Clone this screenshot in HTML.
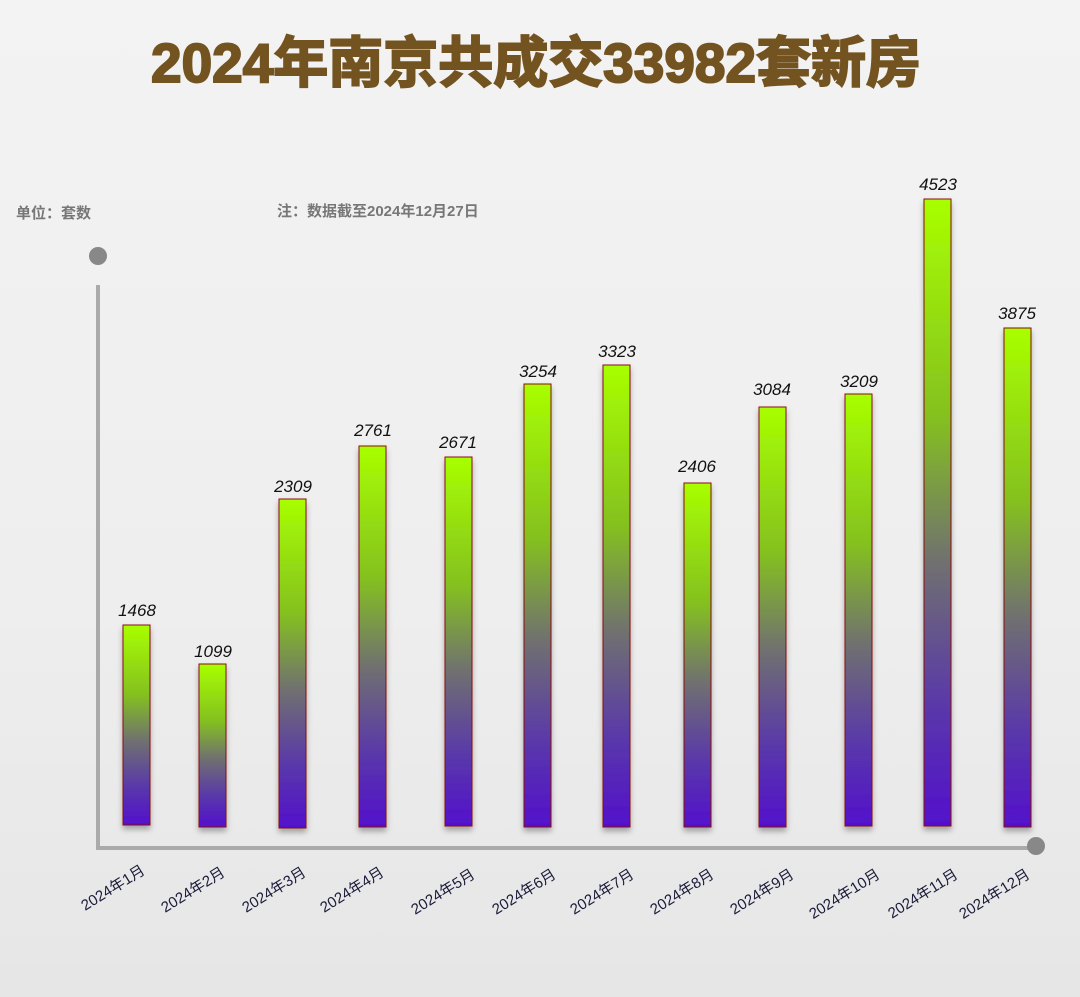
<!DOCTYPE html>
<html><head><meta charset="utf-8"><style>
body{margin:0;width:1080px;height:997px;overflow:hidden;background:linear-gradient(180deg,#f3f3f3 0%,#eeeeee 60%,#e6e6e6 100%);font-family:"Liberation Sans","Noto Sans CJK SC",sans-serif;}
</style></head><body>
<svg width="1080" height="997" xmlns="http://www.w3.org/2000/svg" style="position:absolute;left:0;top:0">
<defs>
<linearGradient id="g" x1="0" y1="0" x2="0" y2="1">
<stop offset="0" stop-color="#a8ff00"/>
<stop offset="0.35" stop-color="#84c020"/>
<stop offset="0.58" stop-color="#707070"/>
<stop offset="0.8" stop-color="#5a3aa8"/>
<stop offset="1" stop-color="#5210cc"/>
</linearGradient>
<filter id="sh"><feDropShadow dx="0" dy="4" stdDeviation="3" flood-color="#000" flood-opacity="0.3"/></filter>
</defs>
<text x="536" y="82" text-anchor="middle" font-size="55" font-weight="bold" fill="#735320" stroke="#735320" stroke-width="2" textLength="770" lengthAdjust="spacingAndGlyphs" font-family="Liberation Sans,Noto Sans CJK SC,sans-serif">2024年南京共成交33982套新房</text>
<text x="16" y="218" font-size="15" font-weight="bold" fill="#777">单位：套数</text>
<text x="277" y="216" font-size="15" font-weight="bold" fill="#777">注：数据截至2024年12月27日</text>
<line x1="98" y1="285" x2="98" y2="849" stroke="#aaa" stroke-width="4"/>
<line x1="96" y1="848" x2="1034" y2="848" stroke="#aaa" stroke-width="4"/>
<circle cx="98" cy="256" r="9" fill="#888"/>
<circle cx="1036" cy="846" r="9" fill="#888"/>
<g stroke="#8a1010" stroke-width="1" filter="url(#sh)" fill="url(#g)">
<rect x="123" y="625" width="27" height="200"/>
<rect x="199" y="664" width="27" height="163"/>
<rect x="279" y="499" width="27" height="329"/>
<rect x="359" y="446" width="27" height="381"/>
<rect x="445" y="457" width="27" height="369"/>
<rect x="524" y="384" width="27" height="443"/>
<rect x="603" y="365" width="27" height="462"/>
<rect x="684" y="483" width="27" height="344"/>
<rect x="759" y="407" width="27" height="420"/>
<rect x="845" y="394" width="27" height="432"/>
<rect x="924" y="199" width="27" height="627"/>
<rect x="1004" y="328" width="27" height="499"/>
</g>
<g font-size="17" font-style="italic" fill="#111" text-anchor="middle">
<text x="137" y="616">1468</text><text x="213" y="657">1099</text><text x="293" y="492">2309</text><text x="373" y="436">2761</text>
<text x="458" y="448">2671</text><text x="538" y="377">3254</text><text x="617" y="357">3323</text><text x="697" y="472">2406</text>
<text x="772" y="395">3084</text><text x="859" y="387">3209</text><text x="938" y="190">4523</text><text x="1017" y="319">3875</text>
</g>
<g font-size="15" fill="#1a1a3a" text-anchor="end">
<text transform="translate(146,873) rotate(-32)">2024年1月</text>
<text transform="translate(226,875) rotate(-32)">2024年2月</text>
<text transform="translate(307,875) rotate(-32)">2024年3月</text>
<text transform="translate(385,875) rotate(-32)">2024年4月</text>
<text transform="translate(476,877) rotate(-32)">2024年5月</text>
<text transform="translate(557,877) rotate(-32)">2024年6月</text>
<text transform="translate(635,877) rotate(-32)">2024年7月</text>
<text transform="translate(715,877) rotate(-32)">2024年8月</text>
<text transform="translate(795,877) rotate(-32)">2024年9月</text>
<text transform="translate(881,877) rotate(-32)">2024年10月</text>
<text transform="translate(959,877) rotate(-32)">2024年11月</text>
<text transform="translate(1031,877) rotate(-32)">2024年12月</text>
</g>
</svg>
</body></html>
